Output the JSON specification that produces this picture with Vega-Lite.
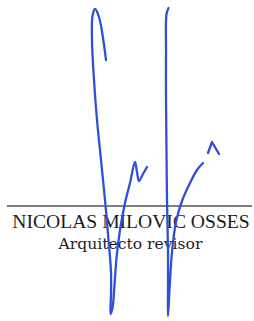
{
  "$schema": "https://vega.github.io/schema/vega-lite/v6.json",
  "width": 254,
  "height": 321,
  "padding": 0,
  "autosize": {"type": "fit", "contains": "padding"},
  "background": "white",
  "config": {"view": {"stroke": null}},
  "datasets": {
    "ink": [
      {"s": "a", "i": 1, "x": 106, "y": 60},
      {"s": "a", "i": 2, "x": 103, "y": 38},
      {"s": "a", "i": 3, "x": 99, "y": 17},
      {"s": "a", "i": 4, "x": 95, "y": 9},
      {"s": "a", "i": 5, "x": 92.5, "y": 16},
      {"s": "a", "i": 6, "x": 92, "y": 40},
      {"s": "a", "i": 7, "x": 94, "y": 80},
      {"s": "a", "i": 8, "x": 97, "y": 120},
      {"s": "a", "i": 9, "x": 101, "y": 160},
      {"s": "a", "i": 10, "x": 105, "y": 200},
      {"s": "a", "i": 11, "x": 108.5, "y": 240},
      {"s": "a", "i": 12, "x": 111, "y": 272},
      {"s": "a", "i": 13, "x": 111, "y": 295},
      {"s": "a", "i": 14, "x": 110.5, "y": 314},
      {"s": "a", "i": 15, "x": 112.5, "y": 308},
      {"s": "a", "i": 16, "x": 114.5, "y": 285},
      {"s": "a", "i": 17, "x": 116.5, "y": 258},
      {"s": "a", "i": 18, "x": 120, "y": 230},
      {"s": "a", "i": 19, "x": 125, "y": 203},
      {"s": "a", "i": 20, "x": 130, "y": 183},
      {"s": "a", "i": 21, "x": 135, "y": 162},
      {"s": "a", "i": 22, "x": 137, "y": 172},
      {"s": "a", "i": 23, "x": 139, "y": 181},
      {"s": "a", "i": 24, "x": 143, "y": 174},
      {"s": "a", "i": 25, "x": 147, "y": 167},
      {"s": "b", "i": 1, "x": 168.5, "y": 8},
      {"s": "b", "i": 2, "x": 166.5, "y": 14},
      {"s": "b", "i": 3, "x": 166, "y": 50},
      {"s": "b", "i": 4, "x": 166, "y": 100},
      {"s": "b", "i": 5, "x": 166.5, "y": 150},
      {"s": "b", "i": 6, "x": 167, "y": 200},
      {"s": "b", "i": 7, "x": 168, "y": 250},
      {"s": "b", "i": 8, "x": 168, "y": 290},
      {"s": "b", "i": 9, "x": 168, "y": 316},
      {"s": "b", "i": 10, "x": 169.5, "y": 290},
      {"s": "b", "i": 11, "x": 172, "y": 252},
      {"s": "b", "i": 12, "x": 176, "y": 222},
      {"s": "b", "i": 13, "x": 182, "y": 201},
      {"s": "b", "i": 14, "x": 190, "y": 183},
      {"s": "b", "i": 15, "x": 197, "y": 170},
      {"s": "b", "i": 16, "x": 203, "y": 163}
    ],
    "caret": [
      {"s": "c", "i": 1, "x": 208, "y": 153},
      {"s": "c", "i": 2, "x": 212, "y": 142},
      {"s": "c", "i": 3, "x": 219, "y": 154}
    ],
    "rule": [{"x1": 7, "x2": 252, "y": 206}],
    "labels": [
      {"t": "NICOLAS MILOVIC OSSES", "x": 131, "y": 228, "k": "name"},
      {"t": "Arquitecto revisor", "x": 130.5, "y": 248.5, "k": "role"}
    ]
  },
  "layer": [
    {
      "data": {"name": "rule"},
      "mark": {"type": "rule", "color": "#555555", "strokeWidth": 1.6},
      "encoding": {
        "x": {"field": "x1", "type": "quantitative", "scale": {"domain": [0, 254], "nice": false, "zero": false}, "axis": null},
        "x2": {"field": "x2"},
        "y": {"field": "y", "type": "quantitative", "scale": {"domain": [0, 321], "nice": false, "zero": false, "reverse": true}, "axis": null}
      }
    },
    {
      "data": {"name": "labels"},
      "transform": [{"filter": "datum.k == 'name'"}],
      "mark": {"type": "text", "font": "Liberation Serif", "fontSize": 19.6, "color": "#1c1c1c", "align": "center", "baseline": "alphabetic"},
      "encoding": {
        "x": {"field": "x", "type": "quantitative", "scale": {"domain": [0, 254], "nice": false, "zero": false}, "axis": null},
        "y": {"field": "y", "type": "quantitative", "scale": {"domain": [0, 321], "nice": false, "zero": false, "reverse": true}, "axis": null},
        "text": {"field": "t"}
      }
    },
    {
      "data": {"name": "labels"},
      "transform": [{"filter": "datum.k == 'role'"}],
      "mark": {"type": "text", "font": "DejaVu Serif", "fontSize": 15.6, "color": "#1c1c1c", "align": "center", "baseline": "alphabetic"},
      "encoding": {
        "x": {"field": "x", "type": "quantitative", "scale": {"domain": [0, 254], "nice": false, "zero": false}, "axis": null},
        "y": {"field": "y", "type": "quantitative", "scale": {"domain": [0, 321], "nice": false, "zero": false, "reverse": true}, "axis": null},
        "text": {"field": "t"}
      }
    },
    {
      "data": {"name": "ink"},
      "mark": {"type": "line", "interpolate": "catmull-rom", "color": "#2e50d6", "strokeWidth": 2.3, "strokeCap": "round", "strokeJoin": "round"},
      "encoding": {
        "x": {"field": "x", "type": "quantitative", "scale": {"domain": [0, 254], "nice": false, "zero": false}, "axis": null},
        "y": {"field": "y", "type": "quantitative", "scale": {"domain": [0, 321], "nice": false, "zero": false, "reverse": true}, "axis": null},
        "detail": {"field": "s", "type": "nominal"},
        "order": {"field": "i", "type": "quantitative"}
      }
    },
    {
      "data": {"name": "caret"},
      "mark": {"type": "line", "interpolate": "linear", "color": "#2e50d6", "strokeWidth": 2.3, "strokeCap": "round", "strokeJoin": "round"},
      "encoding": {
        "x": {"field": "x", "type": "quantitative", "scale": {"domain": [0, 254], "nice": false, "zero": false}, "axis": null},
        "y": {"field": "y", "type": "quantitative", "scale": {"domain": [0, 321], "nice": false, "zero": false, "reverse": true}, "axis": null},
        "detail": {"field": "s", "type": "nominal"},
        "order": {"field": "i", "type": "quantitative"}
      }
    }
  ]
}
